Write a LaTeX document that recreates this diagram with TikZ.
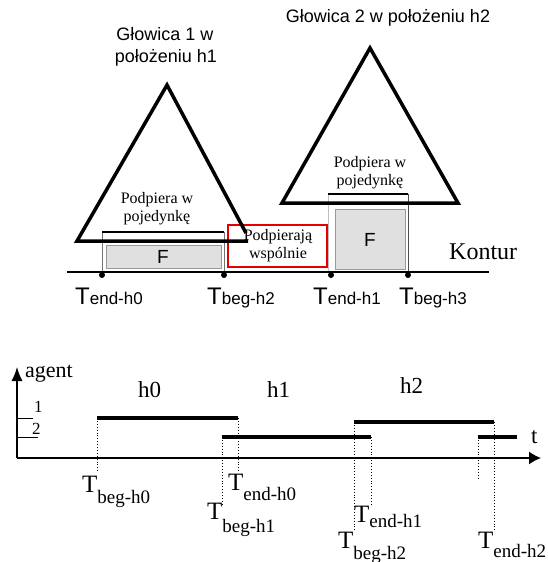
\documentclass[tikz,border=0pt]{standalone}
\usepackage{fontspec}
\setmainfont{Liberation Serif}
\newfontfamily\arialf{Liberation Sans}
\usetikzlibrary{arrows.meta}
\newcommand\toplab[1]{{\arialf\fontsize{24}{24}\selectfont T\fontsize{17}{17}\selectfont #1}}
\newcommand\botlab[2]{{\fontsize{25}{25}\selectfont T\raisebox{-#1pt}{\fontsize{19}{19}\selectfont #2}}}
\begin{document}
\begin{tikzpicture}[x=1pt,y=-1pt,
  headtri/.style={line width=3.5pt, line join=miter},
  suptop/.style={line width=2.5pt},
  fbox/.style={draw=black!40, fill=black!12, line width=0.8pt},
  dotpt/.style={circle, fill=black, inner sep=0pt, minimum size=6pt},
  bar/.style={line width=4.5pt},
  guide/.style={dotted, line width=0.9pt},
  axis/.style={line width=1.3pt},
  tlab/.style={anchor=base west, inner sep=0pt},
  ctext/.style={anchor=base, inner sep=0pt},
  title/.style={anchor=base, inner sep=0pt, font=\arialf\fontsize{18}{18}\selectfont},
  sup/.style={anchor=base, inner sep=0pt, font=\fontsize{16}{16}\selectfont},
  ftxt/.style={inner sep=0pt, font=\arialf\fontsize{19}{19}\selectfont},
]
\useasboundingbox (0,0) rectangle (547,562);

% titles
\node[title] (g1a) at (165,40) {Głowica 1 w};
\node[title] (g1b) at (166,62) {położeniu h1};
\node[title] (g2) at (388,23) {Głowica 2 w położeniu h2};

% red box
\draw[red!90!black, line width=1.6pt] (228,225) rectangle (327,267);
\node[sup] (pw1) at (278,240) {Podpierają};
\node[sup] (pw2) at (278,258) {wspólnie};

% support 1
\draw[black!55, line width=0.8pt] (102,232) rectangle (224,272);
\draw[fbox] (106,245) rectangle (221,268);
\node[ftxt] (f1) at (163,257) {F};
\draw[suptop] (102,232) -- (224,232);
\node[sup] (p1a) at (157,203) {Podpiera w};
\node[sup] (p1b) at (157,221) {pojedynkę};

% support 2
\draw[black!25, line width=0.8pt] (328,194) -- (328,272);
\draw[black!70, line width=0.8pt] (408,194) -- (408,272);
\draw[fbox] (335,209) rectangle (405,269);
\node[ftxt] (f2) at (370,240) {F};
\draw[suptop] (328,194) -- (408,194);
\node[sup] (p2a) at (370,167) {Podpiera w};
\node[sup] (p2b) at (370,185) {pojedynkę};

% heads
\draw[headtri] (246,233) -- (167,85) -- (77,241) -- (248,241);
\draw[headtri] (282,203) -- (370,48) -- (458,203) -- cycle;

% contour
\coordinate (k1) at (67,272);
\coordinate (k2) at (489,272);
\draw[line width=1.8pt] (k1) -- (k2);
\node[dotpt] (d1) at (102,275) {};
\node[dotpt] (d2) at (224,275) {};
\node[dotpt] (d3) at (331,275) {};
\node[dotpt] (d4) at (408,275) {};
\node[anchor=base west, inner sep=0pt, font=\fontsize{24}{24}\selectfont] (kon) at (449,259) {Kontur};

\node[tlab] (te0) at (75,304) {\toplab{end-h0}};
\node[tlab] (tb2) at (207,304) {\toplab{beg-h2}};
\node[tlab] (te1) at (313,304) {\toplab{end-h1}};
\node[tlab] (tb3) at (399,304) {\toplab{beg-h3}};

% time chart axes
\coordinate (o) at (17,458);
\coordinate (ytip) at (17,367);
\coordinate (xtip) at (541,458);
\draw[axis, -{Latex[length=14pt,width=11pt]}] (o) -- (ytip);
\draw[axis, -{Latex[length=12pt,width=13pt]}] (o) -- (xtip);
\node[tlab, font=\fontsize{22}{22}\selectfont] (ag) at (25,377) {agent};
\node[tlab, font=\fontsize{23}{23}\selectfont] (tt) at (531,443) {t};
\draw[line width=1pt] (17,418) -- (33,418);
\draw[line width=1pt] (17,437) -- (38,437);
\node[tlab, font=\fontsize{17}{17}\selectfont] (one) at (34,412) {1};
\node[tlab, font=\fontsize{17}{17}\selectfont] (two) at (32,434) {2};

\node[tlab, font=\fontsize{23}{23}\selectfont] (lh0) at (138,397) {h0};
\node[tlab, font=\fontsize{23}{23}\selectfont] (lh1) at (267,397) {h1};
\node[tlab, font=\fontsize{23}{23}\selectfont] (lh2) at (400,393) {h2};

% bars
\coordinate (a0) at (97,418);  \coordinate (b0) at (238,418);
\coordinate (a1) at (222,437); \coordinate (b1) at (371,437);
\coordinate (a2) at (354,422); \coordinate (b2) at (494,422);
\coordinate (a3) at (478,437); \coordinate (b3) at (517,437);
\draw[bar] (a0) -- (b0);
\draw[bar] (a1) -- (b1);
\draw[bar] (a2) -- (b2);
\draw[bar] (a3) -- (b3);

% guides
\coordinate (ga0) at (97,472);
\coordinate (gb0) at (238,473);
\coordinate (ga1) at (222,505);
\coordinate (gb1) at (371,505);
\coordinate (ga2) at (354,530);
\coordinate (gb2) at (494,530);
\coordinate (ga3) at (478,478);
\draw[guide] (a0) -- (ga0);
\draw[guide] (b0) -- (gb0);
\draw[guide] (a1) -- (ga1);
\draw[guide] (b1) -- (gb1);
\draw[guide] (a2) -- (ga2);
\draw[guide] (b2) -- (gb2);
\draw[guide] (a3) -- (ga3);

% time labels
\node[tlab] (lb0) at (82,492) {\botlab{11}{beg-h0}};
\node[tlab] (le0) at (228,490) {\botlab{10}{end-h0}};
\node[tlab] (lb1) at (207,519) {\botlab{13}{beg-h1}};
\node[tlab] (le1) at (354,522) {\botlab{5}{end-h1}};
\node[tlab] (lb2) at (338,548) {\botlab{11}{beg-h2}};
\node[tlab] (le2) at (478,548) {\botlab{9}{end-h2}};
\end{tikzpicture}
\end{document}
